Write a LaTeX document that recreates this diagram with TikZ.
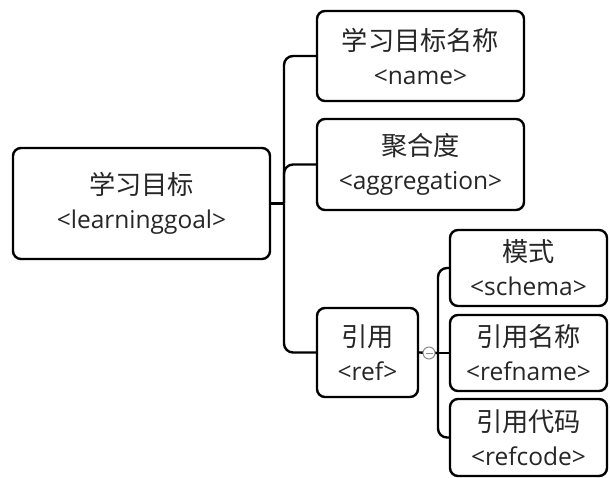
\documentclass[tikz,border=0pt]{standalone}
\usepackage{fontspec}
\setmainfont{Open Sans}
\newfontfamily\cjk[Scale=1.07]{Noto Sans CJK SC}
\usepackage{tikz}
\usetikzlibrary{positioning, calc}

\begin{document}
\begin{tikzpicture}[
  x=1pt, y=-1pt,
  topic/.style={draw, line width=2.4pt, rounded corners=8pt, fill=white,
                align=center, inner sep=0pt, text=black!85,
                font=\fontsize{24.5}{34}\selectfont},
  conn/.style={line width=2.4pt, rounded corners=9pt},
  fold/.style={circle, draw=black!45, line width=1pt, fill=white,
               minimum size=12pt, inner sep=0pt},
]
  \useasboundingbox (0,0) rectangle (610,478);
  \clip (0,0) rectangle (610,478);

  % central topic
  \node[topic, minimum width=257pt, minimum height=111pt] (goal) at (141.5,203.5)
    {{\cjk 学习目标}\\<learninggoal>};

  % first level
  \node[topic, minimum width=207pt, minimum height=90pt] (name) at (420.5,56)
    {{\cjk 学习目标名称}\\<name>};
  \node[topic, minimum width=207pt, minimum height=91pt] (aggr) at (420.5,164.5)
    {{\cjk 聚合度}\\<aggregation>};
  \node[topic, minimum width=101pt, minimum height=89pt] (ref) at (367.5,352.5)
    {{\cjk 引用}\\<ref>};

  % second level under ref
  \node[topic, minimum width=157pt, minimum height=76pt] (schema) at (528.5,268)
    {{\cjk 模式}\\<schema>};
  \node[topic, minimum width=157pt, minimum height=76pt] (refname) at (528.5,353)
    {{\cjk 引用名称}\\<refname>};
  \node[topic, minimum width=157pt, minimum height=77pt] (refcode) at (528.5,437.5)
    {{\cjk 引用代码}\\<refcode>};

  % connectors
  \coordinate (jct) at (284,203.5);
  \draw[conn] (goal.east) -- (jct);
  \draw[conn] (jct) |- (name.west);
  \draw[conn] (jct) |- (aggr.west);
  \draw[conn] (jct) |- (ref.west);

  \coordinate (subjct) at (438,353);
  \draw[conn] (ref.east) -- (subjct);
  \draw[conn] (subjct) |- (schema.west);
  \draw[conn] (subjct) -- (refname.west);
  \draw[conn] (subjct) |- (refcode.west);
  \node[fold] (toggle) at (429,353) {};
  \draw[black!45, line width=1pt] ($(toggle.center)+(-3.5,0)$) -- ($(toggle.center)+(3.5,0)$);
\end{tikzpicture}
\end{document}
